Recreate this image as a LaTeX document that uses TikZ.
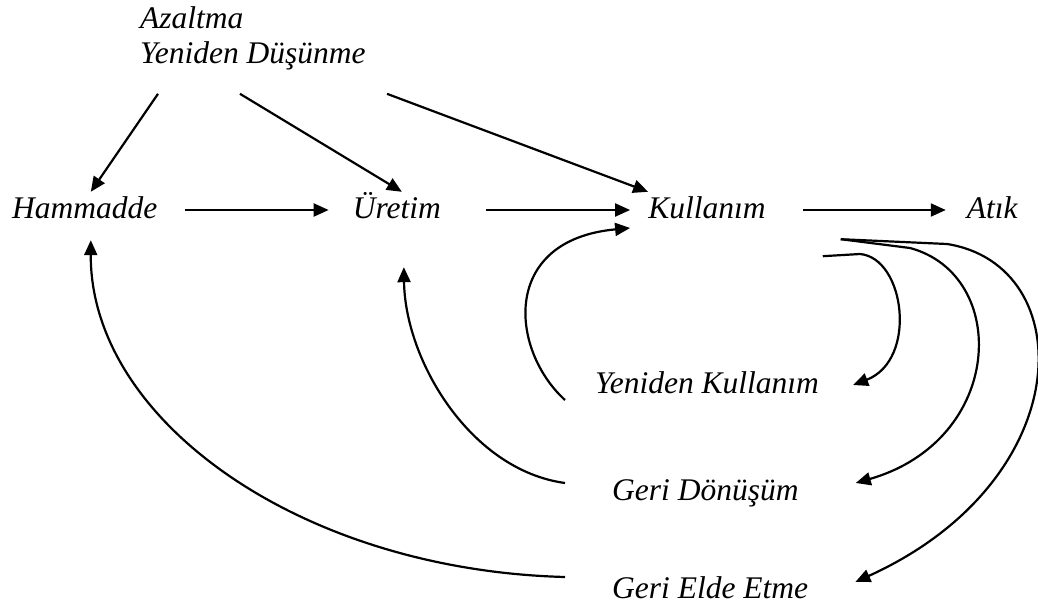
\documentclass[tikz,border=0pt]{standalone}
\usepackage{fontspec}
\setmainfont{Liberation Serif}
\usetikzlibrary{positioning}
\usetikzlibrary{arrows.meta}

\begin{document}
\begin{tikzpicture}[x=1pt,y=-1pt,
  mylabel/.style={font=\fontsize{31.5}{35}\selectfont\itshape, inner sep=0pt, text height=22pt, text depth=6pt},
  myarrow/.style={-{Triangle[length=15pt,width=13pt]}, line width=2.2pt}]

\useasboundingbox (0,0) rectangle (1038,607);

\node[mylabel, anchor=north west, align=left, text height=, text depth=] (azaltma) at (140,6) {Azaltma\\Yeniden Düşünme};

\node[mylabel, anchor=west] (hammadde) at (12,210) {Hammadde};
\node[mylabel, right=195pt of hammadde] (uretim) {Üretim};
\node[mylabel, right=207pt of uretim] (kullanim) {Kullanım};
\node[mylabel, right=201pt of kullanim] (atik) {Atık};

\node[mylabel, anchor=west] (yenidenk) at (595,385) {Yeniden Kullanım};
\node[mylabel, anchor=west] (geridon) at (612,492) {Geri Dönüşüm};
\node[mylabel, anchor=west] (gerielde) at (612,590) {Geri Elde Etme};

\draw[myarrow] ([xshift=18pt,yshift=-24pt]azaltma.south west) -- ([xshift=6pt,yshift=4pt]hammadde.north);
\draw[myarrow] ([xshift=100pt,yshift=-24pt]azaltma.south west) -- ([xshift=5pt,yshift=4pt]uretim.north);
\draw[myarrow] ([xshift=247pt,yshift=-24pt]azaltma.south west) -- ([yshift=4pt]kullanim.north west);

\draw[myarrow, shorten <=27pt, shorten >=24pt] (hammadde) -- (uretim);
\draw[myarrow, shorten <=45pt, shorten >=18pt] (uretim) -- (kullanim);
\draw[myarrow, shorten <=37pt, shorten >=21pt] (kullanim) -- (atik);

\draw[myarrow] ([xshift=-30pt,yshift=-15pt]yenidenk.west) .. controls (510,350) and (500,240) .. ([xshift=-18pt,yshift=-18pt]kullanim.west);
\draw[myarrow] ([xshift=-47pt,yshift=9pt]geridon.west) .. controls (470,470) and (405,360) .. ([xshift=7pt,yshift=-43pt]uretim.south);
\draw[myarrow] ([xshift=-47pt,yshift=13pt]gerielde.west) .. controls (300,570) and (90,420) .. ([xshift=6pt,yshift=-16pt]hammadde.south);

\draw[myarrow] ([xshift=57pt,yshift=-32pt]kullanim.south east) -- (860,254) .. controls (905,258) and (918,360) .. ([xshift=34pt]yenidenk.east);
\draw[myarrow] ([xshift=75pt,yshift=-15pt]kullanim.south east) -- (910,248) .. controls (1010,275) and (1005,440) .. ([xshift=57pt,yshift=9pt]geridon.east);
\draw[myarrow] ([xshift=75pt,yshift=-15pt]kullanim.south east) -- (947,244) .. controls (1080,265) and (1080,480) .. ([xshift=47pt,yshift=8pt]gerielde.east);

\end{tikzpicture}
\end{document}
